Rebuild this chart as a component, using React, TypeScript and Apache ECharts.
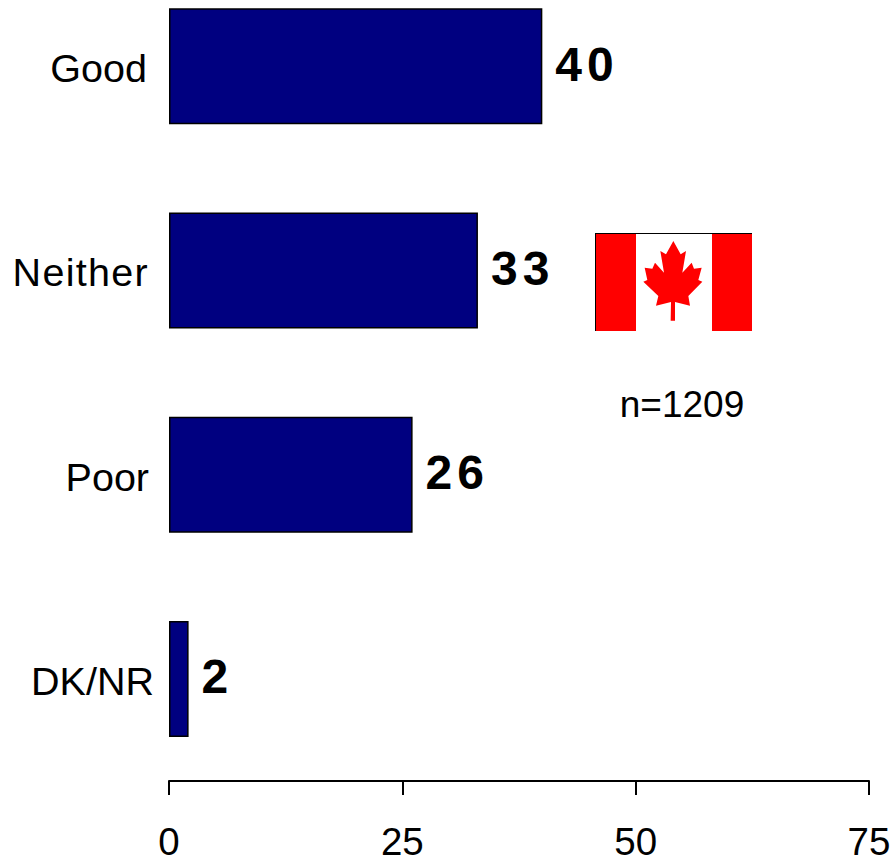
import React, { useEffect, useRef } from "react";
import * as echarts from "echarts";

const categories = ["Good", "Neither", "Poor", "DK/NR"];
const values = [40, 33.1, 26.1, 2.1];
const axisMin = 0;
const axisMax = 75;
const axisStep = 25;
const sampleNote = "n=1209";
const FONT = '"Liberation Sans", Arial, sans-serif';

const leafOutline: number[][] = [
  [280, 63], [302, 103], [318, 93], [307, 158], [335, 128], [342, 146], [365, 143], [355, 180],
  [367, 185], [325, 228], [330, 257], [285, 246], [285, 302], [272, 302], [273, 246], [228, 257],
  [235, 228], [190, 185], [202, 180], [194, 143], [217, 146], [225, 128], [252, 158], [241, 93], [258, 103],
];

export default function App() {
  const ref = useRef<HTMLDivElement>(null);
  useEffect(() => {
    const chart = echarts.init(ref.current!, null, { renderer: "svg" });
    chart.setOption({
      animation: false,
      backgroundColor: "#fff",
      grid: { left: 169, width: 700, top: -36, height: 817, containLabel: false, outerBoundsMode: "none" },
      xAxis: {
        type: "value",
        min: axisMin,
        max: axisMax,
        interval: axisStep,
        position: "bottom",
        splitLine: { show: false },
        axisLine: { show: true, lineStyle: { color: "#000", width: 2 } },
        axisTick: { show: true, length: 14, lineStyle: { color: "#000", width: 2 } },
        axisLabel: { fontFamily: FONT, fontSize: 38.5, color: "#000", margin: 41, hideOverlap: false, showMaxLabel: true, showMinLabel: true },
      },
      yAxis: {
        type: "category",
        inverse: true,
        data: categories,
        axisLine: { show: false },
        axisTick: { show: false },
        splitLine: { show: false },
        axisLabel: { fontFamily: FONT, fontSize: 39.5, color: "#000", margin: 20, interval: 0 },
      },
      series: [
        {
          type: "bar",
          data: values,
          barWidth: 116,
          itemStyle: { color: "#000080", borderColor: "#000", borderWidth: 1.5 },
          label: {
            show: true,
            position: "right",
            distance: 13,
            fontFamily: FONT,
            fontSize: 48,
            fontWeight: "bold",
            color: "#000",
            formatter: (p: any) => String(Math.round(p.value)),
          },
        },
      ],
      graphic: [
        { type: "rect", silent: true, shape: { x: 595, y: 233, width: 157, height: 98 }, style: { fill: "#fff" } },
        { type: "rect", silent: true, shape: { x: 595, y: 233, width: 41, height: 98 }, style: { fill: "#f00" } },
        { type: "rect", silent: true, shape: { x: 712, y: 233, width: 40, height: 98 }, style: { fill: "#f00" } },
        {
          type: "polygon",
          silent: true,
          shape: { points: leafOutline.map(([x, y]) => [580 + x / 3, 220 + y / 3]) },
          style: { fill: "#f00" },
        },
        { type: "line", silent: true, shape: { x1: 595, y1: 233.5, x2: 752, y2: 233.5 }, style: { stroke: "#000", lineWidth: 1 } },
        { type: "line", silent: true, shape: { x1: 595.5, y1: 233, x2: 595.5, y2: 331 }, style: { stroke: "#000", lineWidth: 1 } },
        {
          type: "text",
          silent: true,
          style: { x: 682, y: 404, text: sampleNote, font: `37px ${FONT}`, fill: "#000", textAlign: "center", textVerticalAlign: "middle" },
        },
      ],
    });
    const nudges: Record<string, { dx: number; dy: number; spacing: number }> = {
      Good: { dx: -2, dy: 2, spacing: 0 },
      Neither: { dx: 0, dy: 2, spacing: 1.3 },
      Poor: { dx: 0, dy: 2, spacing: 0 },
      "DK/NR": { dx: 5, dy: 2, spacing: 0 },
    };
    ref.current!.querySelectorAll("text").forEach((t) => {
      const el = t as SVGTextElement;
      const s = el.textContent || "";
      if (/bold/.test(el.getAttribute("style") || "")) {
        el.style.letterSpacing = "5px";
        el.setAttribute("dy", "-2");
      }
      const n = nudges[s];
      if (n) {
        el.setAttribute("dx", String(n.dx));
        el.setAttribute("dy", String(n.dy));
        if (n.spacing) el.style.letterSpacing = `${n.spacing}px`;
      }
    });
    return () => chart.dispose();
  }, []);
  return <div ref={ref} style={{ position: "absolute", left: 0, top: 0, width: 892, height: 861 }} />;
}
